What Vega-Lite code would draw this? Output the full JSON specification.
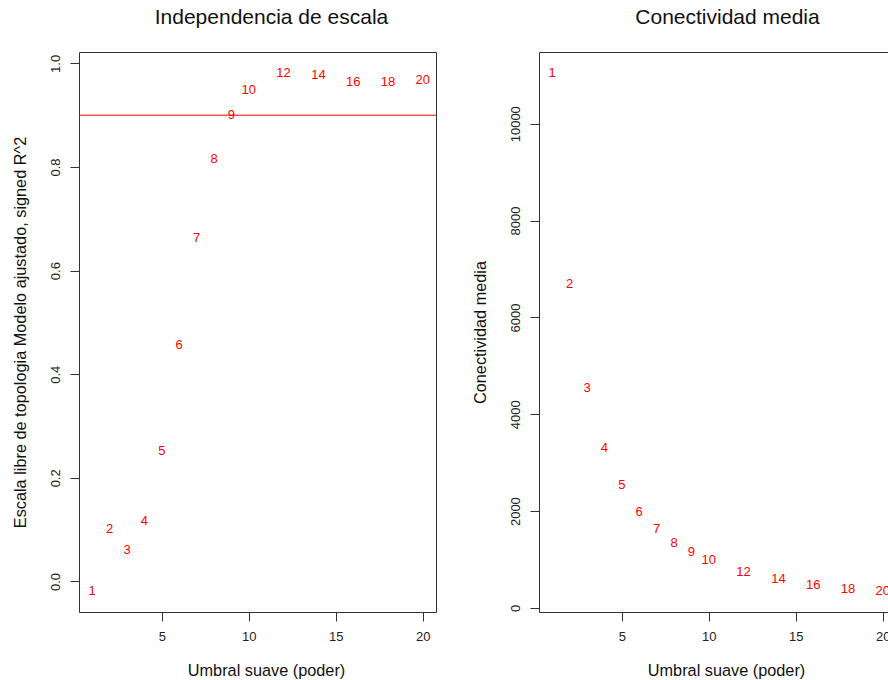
{
  "$schema": "https://vega.github.io/schema/vega-lite/v6.json",
  "background": "white",
  "padding": {"left": 11, "top": 6, "right": 0, "bottom": 0},
  "spacing": 34,
  "config": {
    "font": "Liberation Sans",
    "view": {"stroke": "#333", "strokeWidth": 1},
    "axis": {
      "domain": false, "grid": false,
      "tickColor": "#333", "tickSize": 9,
      "labelColor": "#222", "labelFontSize": 13, "labelFont": "Liberation Sans",
      "titleFontSize": 16.3, "titleFontWeight": "normal", "titleColor": "#111", "titleFont": "Liberation Sans"
    },
    "title": {"fontSize": 21, "fontWeight": "normal", "font": "Liberation Sans", "color": "#111"}
  },
  "datasets": {
    "sft": [
      {"power": 1, "r2": -0.019, "k": 11053},
      {"power": 2, "r2": 0.102, "k": 6695},
      {"power": 3, "r2": 0.060, "k": 4544},
      {"power": 4, "r2": 0.116, "k": 3297},
      {"power": 5, "r2": 0.251, "k": 2531},
      {"power": 6, "r2": 0.456, "k": 1986},
      {"power": 7, "r2": 0.663, "k": 1621},
      {"power": 8, "r2": 0.815, "k": 1344},
      {"power": 9, "r2": 0.900, "k": 1146},
      {"power": 10, "r2": 0.949, "k": 987},
      {"power": 12, "r2": 0.982, "k": 753},
      {"power": 14, "r2": 0.978, "k": 600},
      {"power": 16, "r2": 0.964, "k": 484},
      {"power": 18, "r2": 0.964, "k": 401},
      {"power": 20, "r2": 0.968, "k": 345}
    ],
    "cut": [{"h": 0.9}]
  },
  "hconcat": [
    {
      "width": 357, "height": 560,
      "title": {"text": "Independencia de escala", "dx": 14, "offset": 7, "baseline": "alphabetic"},
      "layer": [
        {
          "data": {"name": "sft"},
          "mark": {"type": "text", "color": "#ff0000", "fontSize": 13},
          "encoding": {
            "x": {"field": "power", "type": "quantitative",
                  "scale": {"domain": [0.24, 20.76], "nice": false, "zero": false},
                  "axis": {"values": [5, 10, 15, 20], "title": "Umbral suave (poder)", "labelPadding": 9, "titlePadding": 19, "titleX": 187}},
            "y": {"field": "r2", "type": "quantitative",
                  "scale": {"domain": [-0.059, 1.022], "nice": false, "zero": false},
                  "axis": {"values": [0, 0.2, 0.4, 0.6, 0.8, 1.0], "format": ".1f", "labelAngle": 270, "labelAlign": "center", "labelBaseline": "bottom", "labelPadding": 8,
                           "title": "Escala libre de topologia Modelo ajustado, signed R^2", "titlePadding": 21}},
            "text": {"field": "power", "type": "nominal"}
          }
        },
        {
          "data": {"name": "cut"},
          "mark": {"type": "rule", "color": "#ff0000", "strokeWidth": 1},
          "encoding": {"y": {"field": "h", "type": "quantitative"}}
        }
      ]
    },
    {
      "width": 357, "height": 560,
      "title": {"text": "Conectividad media", "dx": 10, "offset": 7, "baseline": "alphabetic"},
      "data": {"name": "sft"},
      "mark": {"type": "text", "color": "#ff0000", "fontSize": 13},
      "encoding": {
        "x": {"field": "power", "type": "quantitative",
              "scale": {"domain": [0.24, 20.76], "nice": false, "zero": false},
              "axis": {"values": [5, 10, 15, 20], "title": "Umbral suave (poder)", "labelPadding": 9, "titlePadding": 19, "titleX": 187}},
        "y": {"field": "k", "type": "quantitative",
              "scale": {"domain": [-83, 11481], "nice": false, "zero": false},
              "axis": {"values": [0, 2000, 4000, 6000, 8000, 10000], "format": "d", "labelAngle": 270, "labelAlign": "center", "labelBaseline": "bottom", "labelPadding": 8,
                       "title": "Conectividad media", "titlePadding": 21}},
        "text": {"field": "power", "type": "nominal"}
      }
    }
  ]
}
